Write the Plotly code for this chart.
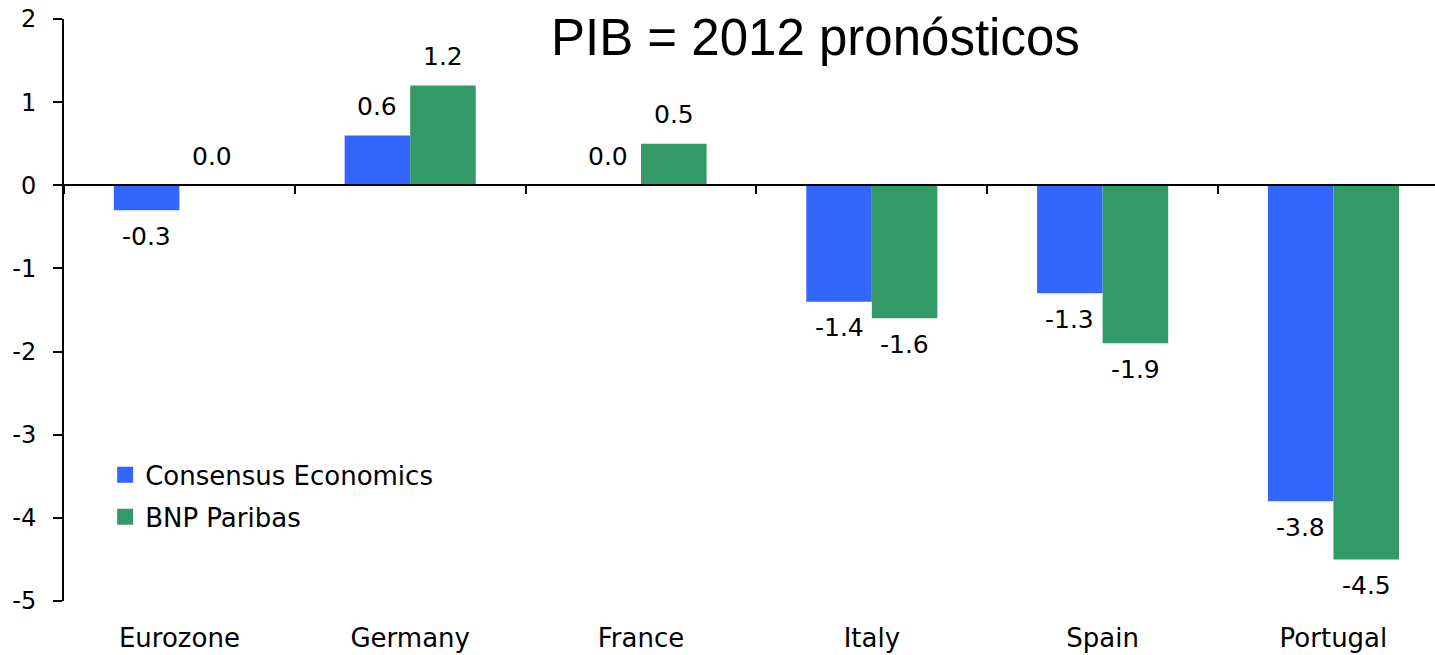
import plotly.graph_objects as go

# GDP 2012 forecasts (%)
countries = ["Eurozone", "Germany", "France", "Italy", "Spain", "Portugal"]
consensus = [-0.3, 0.6, 0.0, -1.4, -1.3, -3.8]
bnp = [0.0, 1.2, 0.5, -1.6, -1.9, -4.5]
series_names = ["Consensus Economics", "BNP Paribas"]
y_ticks = [2, 1, 0, -1, -2, -3, -4, -5]

BLUE = "#3366FF"
GREEN = "#339966"
FONT = "DejaVu Sans, Arial, sans-serif"
TITLE_FONT = "Liberation Sans, Arial, sans-serif"
BARGAP = 0.432
X_RANGE = [-0.5, 5.44]

fig = go.Figure()

for k, (name, vals, color) in enumerate([(series_names[0], consensus, BLUE),
                                         (series_names[1], bnp, GREEN)]):
    fig.add_trace(go.Bar(
        x=countries, y=vals, name=name, marker=dict(color=color, line=dict(width=0)),
        showlegend=False, hoverinfo="skip",
    ))
    # legend entry with a larger square swatch
    fig.add_trace(go.Scatter(
        x=[None], y=[None], mode="markers", name=name, legendgroup=f"g{k}",
        marker=dict(symbol="square", size=16, color=color),
    ))

# invisible points so the zero-line axis knows the categories
fig.add_trace(go.Scatter(
    x=countries, y=[0] * len(countries), xaxis="x2", mode="markers",
    marker=dict(opacity=0), showlegend=False, hoverinfo="skip",
))

# value labels, placed just past each bar's end
half = (1 - BARGAP) / 4
for i in range(len(countries)):
    for vals, dx in [(consensus, -half), (bnp, half)]:
        v = vals[i]
        fig.add_annotation(
            x=i + dx, y=v, xref="x", yref="y", text=f"{v:.1f}", showarrow=False,
            yanchor="middle", yshift=29 if v >= 0 else -26,
            font=dict(family=FONT, size=25, color="black"),
        )

plot_left, plot_right = 64, 1435
plot_top, plot_bottom = 19, 601.5
plot_w, plot_h = plot_right - plot_left, plot_bottom - plot_top

fig.add_annotation(
    x=(815 - plot_left) / plot_w, y=(plot_bottom - 38) / plot_h,
    xref="paper", yref="paper", showarrow=False,
    text="PIB = 2012 pronósticos", font=dict(family=TITLE_FONT, size=51, color="black"),
    xanchor="center", yanchor="middle",
)

fig.update_layout(
    width=1435, height=655,
    margin=dict(l=plot_left, r=1435 - plot_right, t=plot_top, b=655 - plot_bottom),
    paper_bgcolor="white", plot_bgcolor="white",
    barmode="group", bargap=BARGAP, bargroupgap=0,
    font=dict(family=FONT, color="black"),
    showlegend=True,
    legend=dict(
        x=0.03, y=0.257, xanchor="left", yanchor="top",
        bgcolor="rgba(0,0,0,0)", font=dict(family=FONT, size=26, color="black"),
        itemsizing="trace", tracegroupgap=5,
    ),
    xaxis=dict(
        type="category", categoryorder="array", categoryarray=countries,
        range=X_RANGE, showline=False, ticks="", showgrid=False,
        tickfont=dict(family=FONT, size=26, color="black"), ticklabelstandoff=19,
    ),
    xaxis2=dict(
        type="category", categoryorder="array", categoryarray=countries,
        overlaying="x", anchor="free", position=5 / 7, range=X_RANGE,
        showline=True, linecolor="black", linewidth=2,
        ticks="outside", tickson="boundaries", ticklen=8, tickwidth=2, tickcolor="black",
        showticklabels=False, showgrid=False,
    ),
    yaxis=dict(
        range=[-5, 2], tickvals=y_ticks, ticktext=[str(t) for t in y_ticks],
        showline=True, linecolor="black", linewidth=2,
        ticks="outside", ticklen=9, tickwidth=2, tickcolor="black",
        showgrid=False, zeroline=False,
        tickfont=dict(family=FONT, size=24, color="black"), ticklabelstandoff=12,
    ),
    hovermode=False,
)

fig.write_html("out.html")
